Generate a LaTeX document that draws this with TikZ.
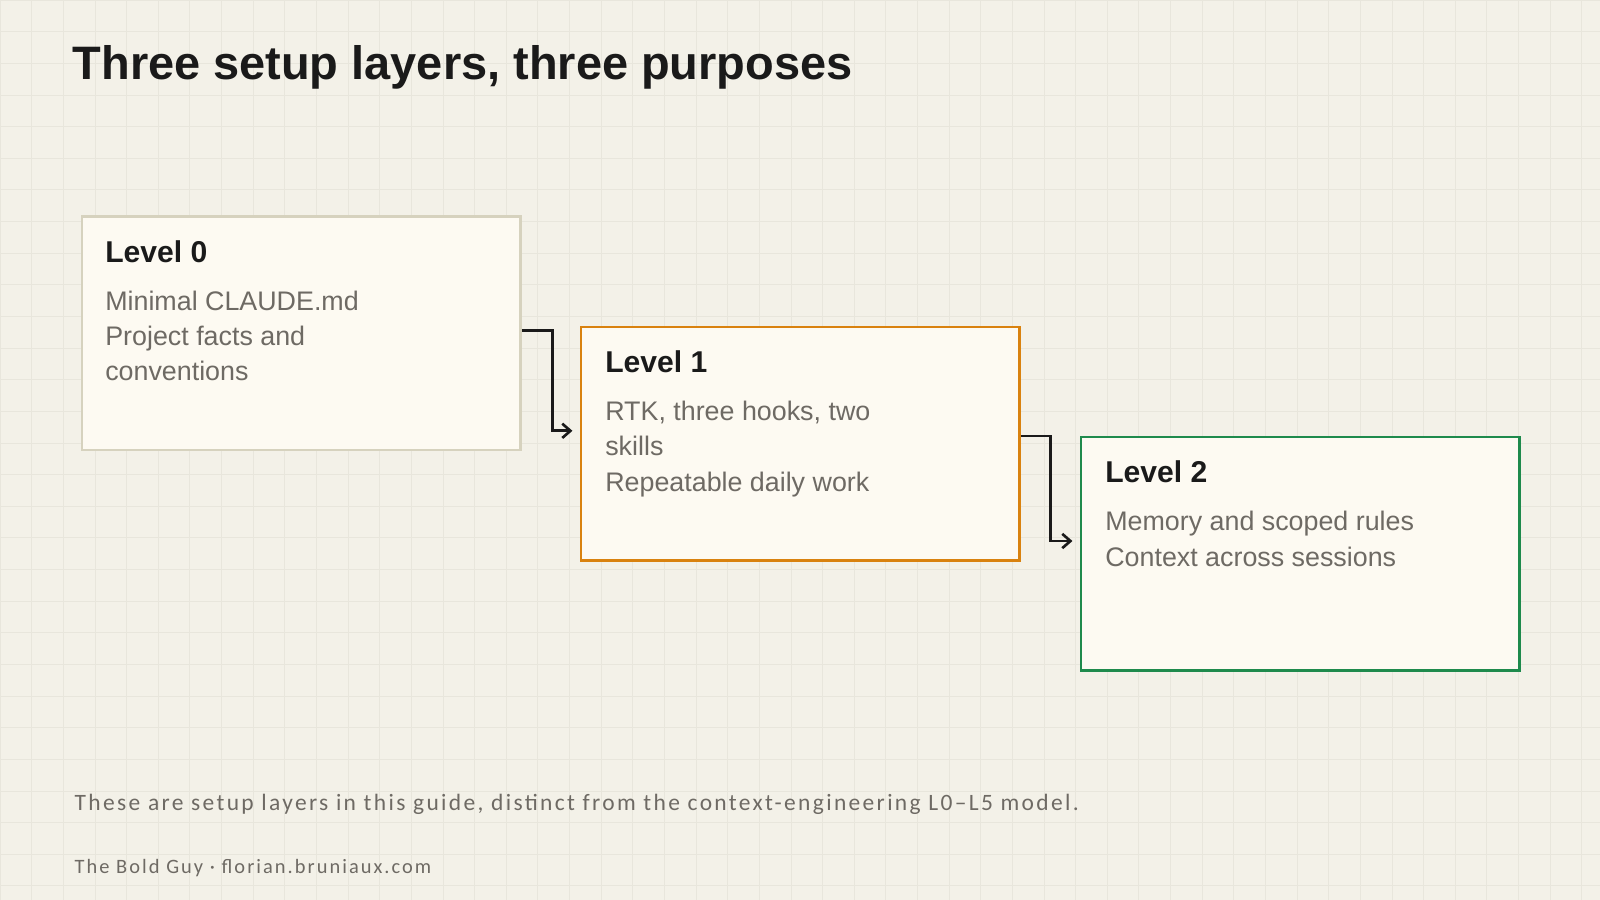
\documentclass[tikz,border=0pt]{standalone}
\usepackage{fontspec}
\setmainfont{Liberation Sans}
\newfontfamily\footfont[LetterSpace=10]{Carlito}
\usetikzlibrary{arrows.meta}
\definecolor{bg}{HTML}{F3F1E8}
\definecolor{gridc}{HTML}{E8E6DC}
\definecolor{boxfill}{HTML}{FDFAF2}
\definecolor{c0}{HTML}{D6D2BE}
\definecolor{c1}{HTML}{D9820F}
\definecolor{c2}{HTML}{1E8A4C}
\definecolor{ink}{HTML}{1A1A1A}
\definecolor{body}{HTML}{6E6A64}
\begin{document}
\begin{tikzpicture}[x=1pt,y=-1pt,
  box/.style={draw, line width=2.4pt, fill=boxfill, minimum width=430pt, minimum height=229pt, anchor=north west},
  head/.style={anchor=base west, font=\fontsize{29.5}{33}\selectfont\bfseries, text=ink},
  txt/.style={anchor=north west, align=left, font=\fontsize{26.3}{34.5}\selectfont, text=body},
  arr/.style={draw=ink, line width=2.6pt, -{Straight Barb[length=8pt,width=14pt]}},
  foot/.style={anchor=base west, text=body}]
\fill[bg] (0,0) rectangle (1568,882);
\useasboundingbox (0,0) rectangle (1568,882);
\foreach \i in {0,31,...,1568} \draw[gridc, line width=0.6pt] (\i,0) -- (\i,882);
\foreach \j in {0,31,...,882} \draw[gridc, line width=0.6pt] (0,\j) -- (1568,\j);
\node[anchor=base west, font=\fontsize{46}{52}\selectfont\bfseries, text=ink, inner sep=0] (title) at (71,78) {Three setup layers, three purposes};
\node[box, draw=c0] (l0) at (79,211) {};
\node[box, draw=c1] (l1) at (568,319) {};
\node[box, draw=c2] (l2) at (1058,427) {};
\node[head, inner sep=0] (h0) at (103,257) {Level 0};
\node[head, inner sep=0] (h1) at (593,365) {Level 1};
\node[head, inner sep=0] (h2) at (1083,473) {Level 2};
\node[txt, inner sep=0] (t0) at (103,285) {Minimal CLAUDE.md\\Project facts and\\conventions};
\node[txt, inner sep=0] (t1) at (593,393) {RTK, three hooks, two\\skills\\Repeatable daily work};
\node[txt, inner sep=0] (t2) at (1083,501) {Memory and scoped rules\\Context across sessions};
\coordinate (e1) at ([xshift=-7pt,yshift=12.5pt]l1.west);
\coordinate (e2) at ([xshift=-7pt,yshift=12.5pt]l2.west);
\draw[arr] ([yshift=2.5pt]l0.east) -- ++(30,0) |- (e1);
\draw[arr] ([yshift=7.5pt]l1.east) -- ++(29,0) |- (e2);
\node[foot, font=\footfont\fontsize{23}{28}\selectfont, inner sep=0] (note) at (73,794) {These are setup layers in this guide, distinct from the context-engineering L0–L5 model.};
\node[foot, font=\footfont\fontsize{20}{24}\selectfont, inner sep=0] (credit) at (73,856) {The Bold Guy · florian.bruniaux.com};
\end{tikzpicture}
\end{document}
